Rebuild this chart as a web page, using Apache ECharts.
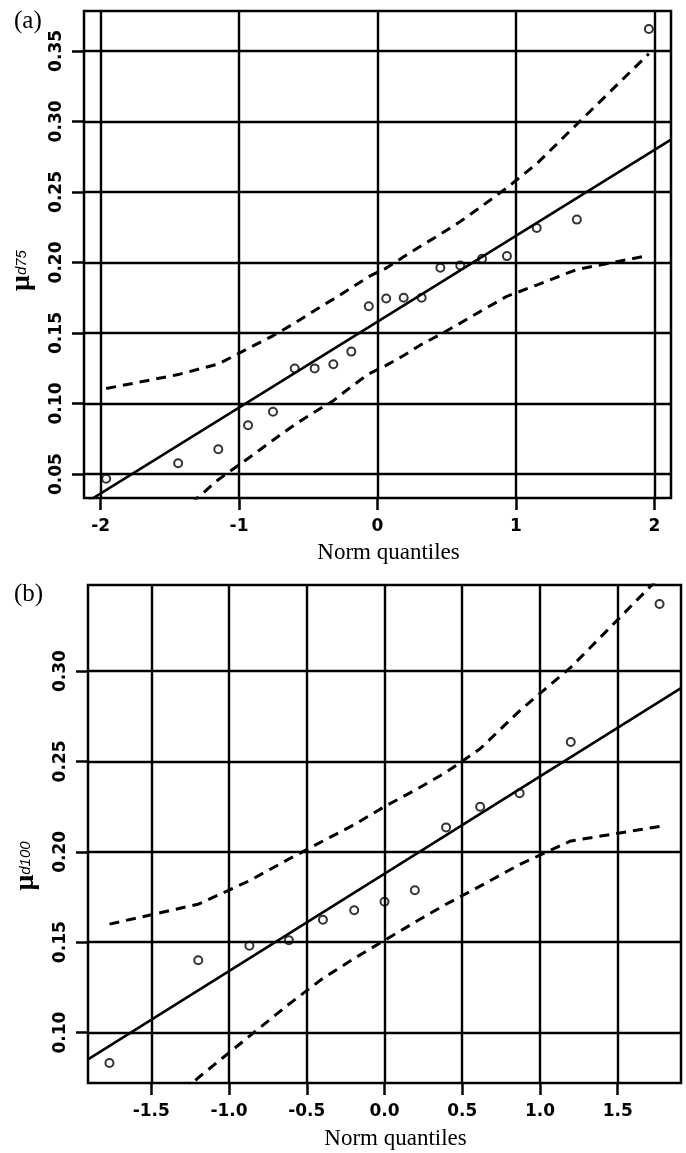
<!DOCTYPE html>
<html>
<head>
<meta charset="utf-8">
<script src="https://cdn.jsdelivr.net/npm/echarts@6/dist/echarts.min.js"></script>
<style>
  html, body { margin: 0; padding: 0; background: #fff; }
  #chart { width: 686px; height: 1153px; }
</style>
</head>
<body>
<div id="chart"></div>
<script>
// panel (a): normal quantiles, sorted mu_d75, envelope
var qA = [-1.960, -1.440, -1.150, -0.935, -0.755, -0.598, -0.454, -0.319, -0.189, -0.063,
          0.063, 0.189, 0.319, 0.454, 0.598, 0.755, 0.935, 1.150, 1.440, 1.960];
var muD75 = [0.0467, 0.0576, 0.0676, 0.0846, 0.0941, 0.1248, 0.1249, 0.1278, 0.1368, 0.169,
             0.1745, 0.175, 0.175, 0.1962, 0.1979, 0.2026, 0.2045, 0.2245, 0.2304, 0.3656];
var upperA = [0.1106, 0.1205, 0.128, 0.139, 0.148, 0.157, 0.166, 0.174, 0.182, 0.190,
              0.196, 0.204, 0.212, 0.220, 0.229, 0.240, 0.253, 0.270, 0.298, 0.348];
var lowerA = [-0.030, 0.021, 0.046, 0.061, 0.074, 0.085, 0.094, 0.102, 0.112, 0.121,
              0.127, 0.134, 0.142, 0.149, 0.157, 0.166, 0.176, 0.184, 0.195, 0.205];
var fitAX = [-2.12, 2.12];
var fitAY = [0.0289, 0.2871];
var xTicksA = [-2, -1, 0, 1, 2];
var yTicksA = [0.05, 0.10, 0.15, 0.20, 0.25, 0.30, 0.35];

// panel (b): mu_d100
var qB = [-1.769, -1.198, -0.869, -0.615, -0.396, -0.195, 0, 0.195, 0.396, 0.615, 0.869, 1.198, 1.769];
var muD100 = [0.0832, 0.140, 0.148, 0.1511, 0.1624, 0.1677, 0.1724, 0.1787, 0.2135, 0.2249, 0.2324, 0.2607, 0.3371];
var upperB = [0.160, 0.171, 0.184, 0.196, 0.206, 0.215, 0.225, 0.234, 0.244, 0.257, 0.278, 0.302, 0.352];
var lowerB = [0.028, 0.075, 0.098, 0.1157, 0.130, 0.141, 0.151, 0.161, 0.171, 0.181, 0.193, 0.206, 0.214];
var fitBX = [-1.907, 1.907];
var fitBY = [0.0852, 0.2905];
var xTicksB = [-1.5, -1.0, -0.5, 0, 0.5, 1.0, 1.5];
var yTicksB = [0.10, 0.15, 0.20, 0.25, 0.30];

var black = '#000';

function pairs(xs, ys) {
  return xs.map(function (x, i) { return [x, ys[i]]; });
}

function xAxisOf(idx, min, max, ticks, dec, gap) {
  return {
    type: 'value', gridIndex: idx, min: min, max: max,
    name: 'Norm quantiles', nameLocation: 'middle', nameGap: gap,
    nameTextStyle: { fontFamily: 'Liberation Serif', fontSize: 23, color: black, padding: [0, 0, 0, 22] },
    axisLine: { show: false, onZero: false },
    axisTick: { show: true, length: 12, customValues: ticks, lineStyle: { color: black, width: 2.5 } },
    axisLabel: {
      customValues: ticks, margin: 20, fontFamily: 'DejaVu Sans', fontWeight: 'bold', fontSize: 17, color: black,
      formatter: function (v) { return v.toFixed(dec); }
    },
    splitLine: { show: true, lineStyle: { color: black, width: 2.4 } }
  };
}

function yAxisOf(idx, min, max, ticks, sub, padRight) {
  return {
    type: 'value', gridIndex: idx, min: min, max: max,
    name: '{m|\u03bc}{s|' + sub + '}', nameLocation: 'middle', nameGap: 48, nameRotate: 90,
    nameTextStyle: {
      color: black, padding: [0, padRight, 0, 0],
      rich: {
        m: { fontFamily: 'Liberation Serif', fontWeight: 'bold', fontSize: 28, color: black },
        s: { fontFamily: 'Liberation Sans', fontStyle: 'italic', fontSize: 15, color: black }
      }
    },
    axisLine: { show: false, onZero: false },
    axisTick: { show: true, length: 12, customValues: ticks, lineStyle: { color: black, width: 2.5 } },
    axisLabel: {
      customValues: ticks, rotate: 90, margin: 19, fontFamily: 'DejaVu Sans', fontWeight: 'bold', fontSize: 17, color: black,
      formatter: function (v) { return v.toFixed(2); }
    },
    splitLine: { show: true, lineStyle: { color: black, width: 2.4 } }
  };
}

function pointSeries(i, xs, ys) {
  return {
    type: 'scatter', xAxisIndex: i, yAxisIndex: i, data: pairs(xs, ys),
    symbol: 'circle', symbolSize: 8,
    itemStyle: { color: 'rgba(0,0,0,0)', borderColor: black, borderWidth: 2 },
    z: 5
  };
}

function lineSeries(i, xs, ys, dashed) {
  return {
    type: 'line', xAxisIndex: i, yAxisIndex: i, data: pairs(xs, ys),
    showSymbol: false, symbol: 'none', clip: true,
    lineStyle: { color: black, width: dashed ? 3 : 2.6, type: dashed ? [10, 7] : 'solid' },
    z: 4
  };
}

var myChart = echarts.init(document.getElementById('chart'));
myChart.setOption({
  animation: false,
  backgroundColor: '#fff',
  grid: [
    { left: 83, top: 11, width: 588, height: 487, show: true, borderColor: black, borderWidth: 2.5, backgroundColor: 'transparent' },
    { left: 88, top: 585, width: 593, height: 498, show: true, borderColor: black, borderWidth: 2.5, backgroundColor: 'transparent' }
  ],
  xAxis: [
    xAxisOf(0, -2.12, 2.12, xTicksA, 0, 43),
    xAxisOf(1, -1.907, 1.907, xTicksB, 1, 44)
  ],
  yAxis: [
    yAxisOf(0, 0.033, 0.3783, yTicksA, 'd75', 32),
    yAxisOf(1, 0.0721, 0.3476, yTicksB, 'd100', 64)
  ],
  graphic: [
    { type: 'text', left: 14, top: 9, style: { text: '(a)', font: '25px "Liberation Serif"', fill: black } },
    { type: 'text', left: 14, top: 582, style: { text: '(b)', font: '25px "Liberation Serif"', fill: black } }
  ],
  series: [
    lineSeries(0, fitAX, fitAY, false),
    lineSeries(0, qA, upperA, true),
    lineSeries(0, qA, lowerA, true),
    pointSeries(0, qA, muD75),
    lineSeries(1, fitBX, fitBY, false),
    lineSeries(1, qB, upperB, true),
    lineSeries(1, qB, lowerB, true),
    pointSeries(1, qB, muD100)
  ]
});
</script>
</body>
</html>
